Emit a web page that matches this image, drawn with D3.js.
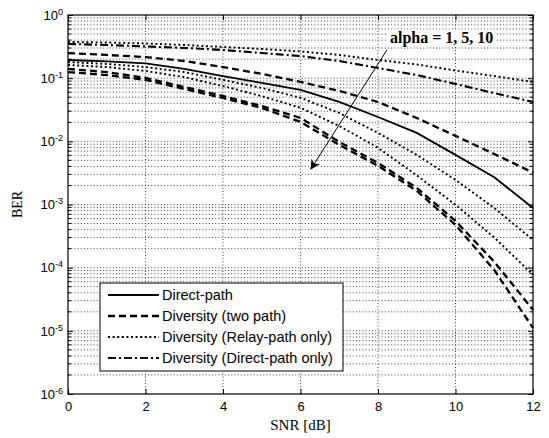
<!DOCTYPE html>
<html>
<head>
<meta charset="utf-8">
<script src="https://cdn.jsdelivr.net/npm/d3@7"></script>
<style>
  body { margin: 0; background: #fff; }
  .tick text { font-family: "Liberation Sans", Arial, sans-serif; font-size: 13px; fill: #000; }
</style>
</head>
<body>
<svg id="chart" width="549" height="438"></svg>
<script>
// SNR in dB
const snr = [0, 1, 2, 3, 4, 5, 6, 7, 8, 9, 10, 11, 12];

// BER
const directPath = [0.194, 0.184, 0.171, 0.140, 0.108, 0.084, 0.065, 0.042, 0.0243, 0.0136, 6.1e-3, 2.7e-3, 8.8e-4];

// Diversity (two path), alpha = 1, 5, 10
const twoPath1 = [0.250, 0.233, 0.216, 0.187, 0.150, 0.117, 0.087, 0.063, 0.042, 0.0234, 0.0122, 6.3e-3, 3.2e-3];
const twoPath5 = [0.140, 0.125, 0.101, 0.0726, 0.0523, 0.0363, 0.0235, 9.8e-3, 4.55e-3, 1.83e-3, 5.5e-4, 1.24e-4, 2.15e-5];
const twoPath10 = [0.125, 0.112, 0.094, 0.0675, 0.0486, 0.0338, 0.0203, 8.8e-3, 4.1e-3, 1.64e-3, 4.75e-4, 9.2e-5, 1.11e-5];

// Diversity (relay-path only), alpha = 1, 5, 10
const relayOnly1 = [0.374, 0.367, 0.354, 0.335, 0.312, 0.290, 0.265, 0.233, 0.194, 0.165, 0.132, 0.108, 0.087];
const relayOnly5 = [0.180, 0.168, 0.150, 0.125, 0.094, 0.070, 0.049, 0.0281, 0.0136, 6.1e-3, 2.45e-3, 8.8e-4, 2.75e-4];
const relayOnly10 = [0.162, 0.150, 0.130, 0.104, 0.075, 0.052, 0.034, 0.0175, 7.9e-3, 2.9e-3, 9.9e-4, 3.0e-4, 7.7e-5];

// Diversity (direct-path only)
const directOnly = [0.348, 0.335, 0.318, 0.301, 0.279, 0.250, 0.224, 0.187, 0.145, 0.112, 0.081, 0.058, 0.042];

const xTicks = [0, 2, 4, 6, 8, 10, 12];
const yDecades = [1e-6, 1e-5, 1e-4, 1e-3, 1e-2, 1e-1, 1];
const legendLabels = ["Direct-path", "Diversity (two path)", "Diversity (Relay-path only)", "Diversity (Direct-path only)"];

const styles = {
  solid: { dash: null, width: 1.8 },
  dashed: { dash: "7,4", width: 2.3 },
  dotted: { dash: "2,2.6", width: 1.9 },
  dashdot: { dash: "8,3,2,3", width: 2.1 }
};

const series = [
  { values: relayOnly1, style: "dotted" },
  { values: directOnly, style: "dashdot" },
  { values: twoPath1, style: "dashed" },
  { values: directPath, style: "solid" },
  { values: relayOnly5, style: "dotted" },
  { values: relayOnly10, style: "dotted" },
  { values: twoPath5, style: "dashed" },
  { values: twoPath10, style: "dashed" }
];

const pLeft = 68, pRight = 533, pTop = 15, pBottom = 394;

const svg = d3.select("#chart");
const x = d3.scaleLinear().domain([0, 12]).range([pLeft, pRight]);
const y = d3.scaleLog().domain([1e-6, 1]).range([pBottom, pTop]);

// grid
const grid = svg.append("g")
  .attr("stroke", "#111")
  .attr("stroke-width", 0.8)
  .attr("stroke-dasharray", "1,2.2");

grid.selectAll("line.hg")
  .data(y.ticks().filter(v => v > 1e-6 && v < 1))
  .enter()
  .append("line")
  .attr("class", "hg")
  .attr("x1", pLeft)
  .attr("x2", pRight)
  .attr("y1", d => y(d))
  .attr("y2", d => y(d));

grid.selectAll("line.vg")
  .data(xTicks.slice(1, -1))
  .enter()
  .append("line")
  .attr("class", "vg")
  .attr("x1", d => x(d))
  .attr("x2", d => x(d))
  .attr("y1", pTop)
  .attr("y2", pBottom);

// curves
const line = d3.line()
  .x((d, i) => x(snr[i]))
  .y(d => y(d));

svg.append("g")
  .selectAll("path")
  .data(series)
  .enter()
  .append("path")
  .attr("d", d => line(d.values))
  .attr("fill", "none")
  .attr("stroke", "#000")
  .attr("stroke-width", d => styles[d.style].width)
  .attr("stroke-dasharray", d => styles[d.style].dash);

// axes, MATLAB style ticks inside
svg.append("g")
  .attr("transform", "translate(0," + pBottom + ")")
  .call(d3.axisBottom(x).tickValues(xTicks).tickSize(-5).tickSizeOuter(0).tickPadding(8));

svg.append("g")
  .attr("transform", "translate(0," + pTop + ")")
  .call(d3.axisTop(x).tickValues(xTicks).tickSize(-5).tickSizeOuter(0).tickFormat(""));

const yAxis = svg.append("g")
  .attr("transform", "translate(" + pLeft + ",0)")
  .call(d3.axisLeft(y).tickValues(yDecades).tickSize(-5).tickSizeOuter(0).tickPadding(5));

yAxis.selectAll(".tick text").each(function (d) {
  const t = d3.select(this);
  t.text("");
  t.append("tspan").text("10");
  t.append("tspan")
    .attr("dy", "-0.55em")
    .attr("font-size", "9px")
    .text(String(Math.round(Math.log10(d))));
});

svg.append("g")
  .attr("transform", "translate(" + pRight + ",0)")
  .call(d3.axisRight(y).tickValues(yDecades).tickSize(-5).tickSizeOuter(0).tickFormat(""));

// minor y ticks
const minor = y.ticks().filter(v => yDecades.indexOf(v) < 0);
svg.append("g")
  .attr("stroke", "#000")
  .selectAll("line")
  .data(minor)
  .enter()
  .append("line")
  .attr("x1", pLeft)
  .attr("x2", pLeft + 3)
  .attr("y1", d => y(d))
  .attr("y2", d => y(d));
svg.append("g")
  .attr("stroke", "#000")
  .selectAll("line")
  .data(minor)
  .enter()
  .append("line")
  .attr("x1", pRight - 3)
  .attr("x2", pRight)
  .attr("y1", d => y(d))
  .attr("y2", d => y(d));

svg.selectAll(".domain").remove();

svg.append("rect")
  .attr("x", pLeft)
  .attr("y", pTop)
  .attr("width", pRight - pLeft)
  .attr("height", pBottom - pTop)
  .attr("fill", "none")
  .attr("stroke", "#000")
  .attr("stroke-width", 1.2);

// axis labels
svg.append("text")
  .attr("x", (pLeft + pRight) / 2)
  .attr("y", 430)
  .attr("text-anchor", "middle")
  .attr("font-family", "Liberation Serif, Times New Roman, serif")
  .attr("font-size", 15)
  .text("SNR [dB]");

svg.append("text")
  .attr("transform", "translate(22," + (pTop + pBottom) / 2 + ") rotate(-90)")
  .attr("text-anchor", "middle")
  .attr("font-family", "Liberation Serif, Times New Roman, serif")
  .attr("font-size", 14)
  .text("BER");

// annotation
const noteG = svg.append("g");
const note = noteG.append("text")
  .attr("x", x(8.31))
  .attr("y", y(0.449))
  .attr("dy", "0.35em")
  .attr("font-family", "Liberation Serif, Times New Roman, serif")
  .attr("font-weight", "bold")
  .attr("font-size", 16)
  .text("alpha = 1, 5, 10");
const nb = note.node().getBBox();
noteG.insert("rect", "text")
  .attr("x", nb.x - 2)
  .attr("y", nb.y + 1)
  .attr("width", nb.width + 4)
  .attr("height", nb.height - 2)
  .attr("fill", "#fff");

svg.append("defs").append("marker")
  .attr("id", "head")
  .attr("viewBox", "0 0 10 10")
  .attr("refX", 9)
  .attr("refY", 5)
  .attr("markerWidth", 13)
  .attr("markerHeight", 10)
  .attr("markerUnits", "userSpaceOnUse")
  .attr("orient", "auto")
  .append("path")
  .attr("d", "M0,0 L10,5 L0,10 L3,5 z")
  .attr("fill", "#000");

svg.append("line")
  .attr("x1", x(8.23))
  .attr("y1", y(0.279))
  .attr("x2", x(6.27))
  .attr("y2", y(3.66e-3))
  .attr("stroke", "#000")
  .attr("stroke-width", 1)
  .attr("marker-end", "url(#head)");

// legend
const lg = svg.append("g");
lg.append("rect")
  .attr("x", 100)
  .attr("y", 283)
  .attr("width", 243)
  .attr("height", 88)
  .attr("fill", "#fff")
  .attr("stroke", "#000")
  .attr("stroke-width", 1);

const legendStyles = ["solid", "dashed", "dotted", "dashdot"];
const rows = lg.selectAll("g.row")
  .data(legendLabels)
  .enter()
  .append("g")
  .attr("class", "row")
  .attr("transform", (d, i) => "translate(0," + (295 + i * 21) + ")");

rows.append("line")
  .attr("x1", 108)
  .attr("x2", 159)
  .attr("stroke", "#000")
  .attr("stroke-width", (d, i) => styles[legendStyles[i]].width)
  .attr("stroke-dasharray", (d, i) => styles[legendStyles[i]].dash);

rows.append("text")
  .attr("x", 162)
  .attr("dy", "0.35em")
  .attr("font-family", "Liberation Sans, Arial, sans-serif")
  .attr("font-size", 14.5)
  .text(d => d);
</script>
</body>
</html>
